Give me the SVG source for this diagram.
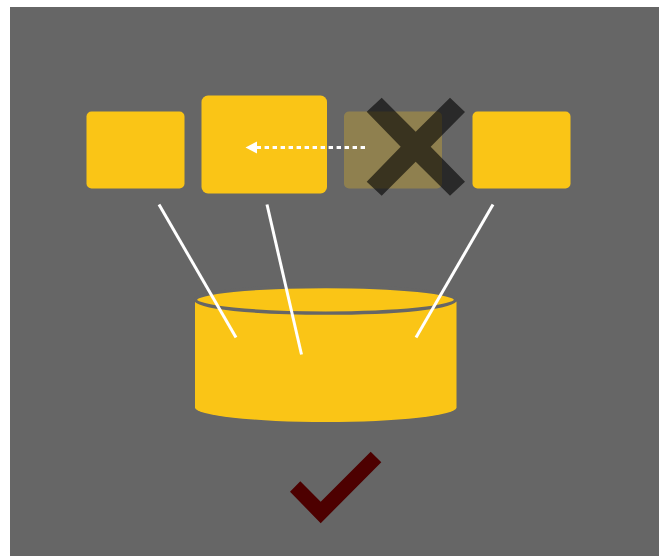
<svg xmlns="http://www.w3.org/2000/svg" width="659" height="556" viewBox="0 0 659 556">
<style>
.y{fill:#fac516}
.c{fill:none;stroke:#fff;stroke-width:3}
</style>
<rect width="659" height="556" fill="#fff"/>
<rect x="10" y="7" width="649" height="549" fill="#666"/>
<g id="box1"><rect class="y" x="86.500" y="111.500" width="98" height="77" rx="5"/></g>
<g id="box2"><rect class="y" x="201.500" y="95.500" width="125.500" height="98" rx="6.500"/></g>
<g id="box3"><rect class="y" x="344" y="111.500" width="98" height="77" rx="5" opacity="0.28"/></g>
<g id="box4"><rect class="y" x="472.500" y="111.500" width="98" height="77" rx="5"/></g>
<g id="cross"><polygon points="381.700,97.700 415.700,131.700 450,97.700 465,112 430.700,146.700 465,181.700 450,195.700 415.700,161.700 381.700,195.700 366.700,181.700 400.700,146.700 366.700,111.700" fill="#000" opacity="0.6"/></g>
<g id="cylinder">
<path class="y" d="M195,301.500V407.500A130.750,14.500 0 0 0 456.500,407.500V301.500Z"/>
<ellipse class="y" cx="325.500" cy="299.800" rx="130" ry="13.300" stroke="#666" stroke-width="3.400"/>
</g>
<g id="check"><polygon points="370.700,451.700 381.300,462.300 320.700,523.200 290,491.700 300.300,481.300 320.700,501.700" fill="#4d0000"/></g>
<g id="connectors">
<path class="c" d="M159,204.500L236,337.500"/>
<path class="c" d="M267,204.500L301.500,354.500"/>
<path class="c" d="M493,204.500L416,337.500"/>
<path class="c" d="M365,147.500H256" stroke-width="3.400" stroke-dasharray="4.400 3.600"/>
<polygon points="245.500,147.500 257,141.500 257,153.500" fill="#fff"/>
</g>
</svg>
